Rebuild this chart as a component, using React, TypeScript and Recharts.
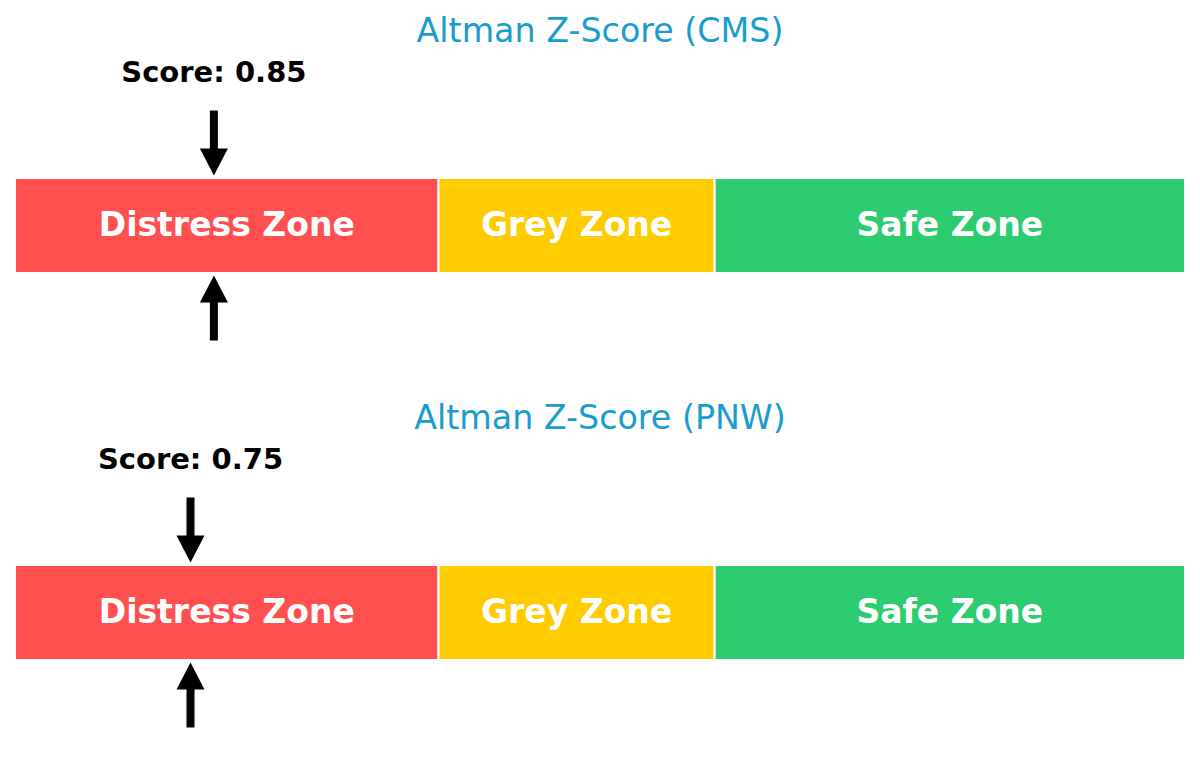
import React from 'react';
import { BarChart, Bar, XAxis, YAxis, ReferenceDot, LabelList, Customized } from 'recharts';

const companies = ['CMS', 'PNW'];
const scores = [0.85, 0.75];
const zoneNames = ['Distress Zone', 'Grey Zone', 'Safe Zone'];
const zoneKeys = ['distress', 'grey', 'safe'];
const zoneWidths = [1.81, 1.18, 2.01];
const zoneColors = ['#FF4F4F', '#FFCC00', '#2ECC71'];
const axisDomain: [number, number] = [0, 5];

const FONT = '"DejaVu Sans", Verdana, sans-serif';
const PANEL_W = 1200;
const PANEL_H = 387;

const zoneLabel = (text: string) => (props: any) => {
  const x = Number(props.x);
  const y = Number(props.y);
  const w = Number(props.width);
  const h = Number(props.height);
  return (
    <text
      x={x + w / 2}
      y={y + h / 2 + 10}
      textAnchor="middle"
      fill="#ffffff"
      fontWeight="bold"
      fontSize={33}
      fontFamily={FONT}
    >
      {text}
    </text>
  );
};

const arrowShape = (label: string) => (props: any) => {
  const cx = Number(props.cx);
  const cy = Number(props.cy);
  const gap = 50;
  const headLen = 27;
  const headHalf = 14;
  const shaftHalf = 4;
  const len = 65;
  const dTip = cy - gap;
  const dBase = dTip - headLen;
  const dTail = dTip - len;
  const uTip = cy + gap;
  const uBase = uTip + headLen;
  const uTail = uTip + len;
  const down = `M${cx - shaftHalf},${dTail} L${cx + shaftHalf},${dTail} L${cx + shaftHalf},${dBase} L${cx + headHalf},${dBase} L${cx},${dTip} L${cx - headHalf},${dBase} L${cx - shaftHalf},${dBase} Z`;
  const up = `M${cx - shaftHalf},${uTail} L${cx + shaftHalf},${uTail} L${cx + shaftHalf},${uBase} L${cx + headHalf},${uBase} L${cx},${uTip} L${cx - headHalf},${uBase} L${cx - shaftHalf},${uBase} Z`;
  return (
    <g>
      <text
        x={cx}
        y={cy - 144}
        textAnchor="middle"
        fill="#000"
        fontWeight="bold"
        fontSize={29}
        fontFamily={FONT}
      >
        {label}
      </text>
      <path d={down} fill="#000" />
      <path d={up} fill="#000" />
    </g>
  );
};

function Panel({ company, score }: { company: string; score: number }) {
  const row: any = { name: company };
  zoneKeys.forEach((k, i) => {
    row[k] = zoneWidths[i];
  });
  const data = [row];
  const title = `Altman Z-Score (${company})`;
  return (
    <BarChart
      width={PANEL_W}
      height={PANEL_H}
      data={data}
      layout="vertical"
      margin={{ top: 178, right: 15, bottom: 114, left: 15 }}
      barCategoryGap={0}
    >
      <XAxis type="number" domain={axisDomain} hide />
      <YAxis type="category" dataKey="name" hide />
      {zoneKeys.map((k, i) => (
        <Bar
          key={k}
          dataKey={k}
          stackId="zones"
          fill={zoneColors[i]}
          stroke="#ffffff"
          strokeWidth={2}
          isAnimationActive={false}
        >
          <LabelList dataKey={k} content={zoneLabel(zoneNames[i])} />
        </Bar>
      ))}
      <ReferenceDot
        x={score}
        y={company}
        r={0}
        ifOverflow="visible"
        shape={arrowShape(`Score: ${score.toFixed(2)}`)}
      />
      <Customized
        component={() => (
          <text
            x={PANEL_W / 2}
            y={42}
            textAnchor="middle"
            fill="#1a9ccf"
            fontSize={33.3}
            fontFamily={FONT}
          >
            {title}
          </text>
        )}
      />
    </BarChart>
  );
}

export default function App() {
  return (
    <div
      style={{
        position: 'absolute',
        left: 0,
        top: 0,
        width: 1200,
        height: 774,
        background: '#ffffff',
      }}
    >
      {companies.map((c, i) => (
        <Panel key={c} company={c} score={scores[i]} />
      ))}
    </div>
  );
}
